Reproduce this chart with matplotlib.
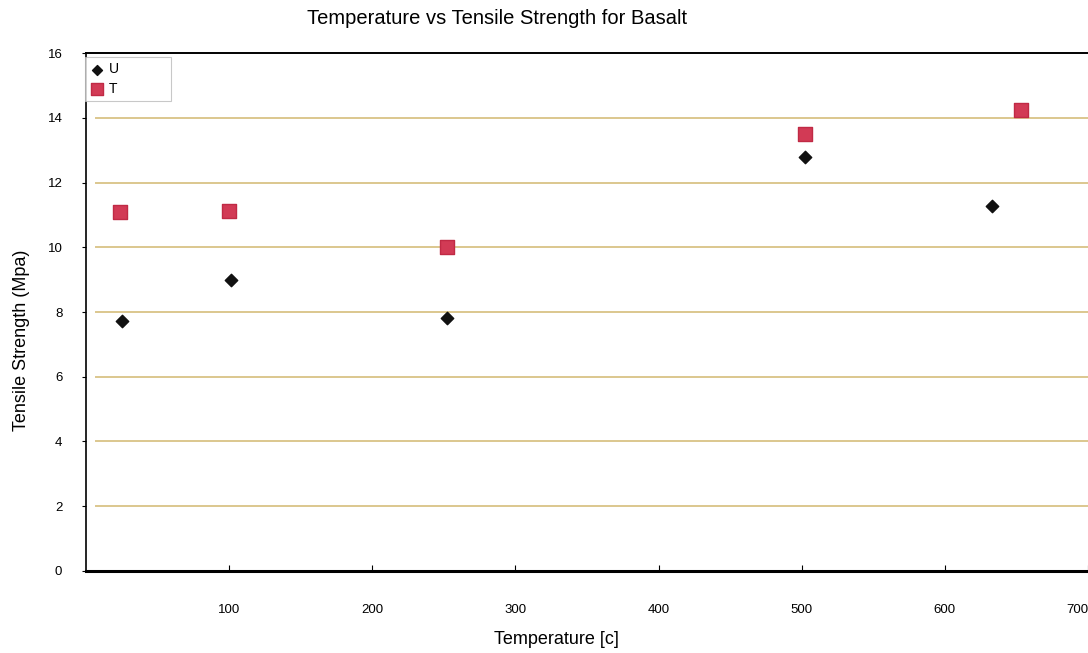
import numpy as np
import matplotlib
matplotlib.use("Agg")
import matplotlib.pyplot as plt

plt.rcParams['font.family'] = ['Liberation Sans', 'DejaVu Sans']

# tensile strength (MPa) against temperature (C)
temp_u = [25, 101, 252, 502, 633]
strength_u = [7.73, 9.0, 7.82, 12.8, 11.28]
temp_t = [24, 100, 252, 502, 653]
strength_t = [11.1, 11.13, 10.0, 13.5, 14.25]
series_labels = ['U', 'T']

x_ticks = [100, 200, 300, 400, 500, 600, 700]
y_ticks = [0, 2, 4, 6, 8, 10, 12, 14, 16]

fig = plt.figure(figsize=(10.88, 6.53), dpi=100, facecolor='white')
ax = fig.add_axes([0.079, 0.1256, 0.921, 0.7932])

ax.set_xlim(0, 700)
ax.set_ylim(0, 16)

# horizontal gridlines in a tan colour
for y in y_ticks[1:-1]:
    ax.axhline(y, xmin=0.01, xmax=1.0, color='#dcc78e', lw=1.4, zorder=1)

ax.scatter(temp_u, strength_u, marker='D', s=40, color='#111111',
           label=series_labels[0], zorder=3)
ax.scatter(temp_t, strength_t, marker='s', s=110, color='#d23a55',
           edgecolors='#c02a45', label=series_labels[1], zorder=3)

ax.set_xticks(x_ticks)
ax.set_yticks(y_ticks)
ax.tick_params(axis='x', direction='in', length=4, pad=24, labelsize=9.5)
ax.tick_params(axis='y', direction='out', length=3, pad=14, labelsize=9.5)
# keep the last x label inside the figure
xlabels = ax.get_xticklabels()
xlabels[-1].set_horizontalalignment('right')

ax.spines['right'].set_visible(False)
ax.spines['bottom'].set_linewidth(2.2)
ax.spines['top'].set_linewidth(1.4)
ax.spines['left'].set_linewidth(1.2)

ax.set_xlabel('Temperature [c]', fontsize=13)
ax.set_ylabel('Tensile Strength (Mpa)', fontsize=13)
ax.xaxis.set_label_coords(0.47, -0.115)
ax.yaxis.set_label_coords(-0.056, 0.445)
fig.text(0.457, 0.972, 'Temperature vs Tensile Strength for Basalt',
         ha='center', va='center', fontsize=14.5)

leg = ax.legend(loc='upper left', bbox_to_anchor=(-0.001, 0.993), frameon=True,
                fancybox=False, edgecolor='#bbbbbb', fontsize=10,
                handletextpad=0.3, borderpad=0.4, labelspacing=0.4,
                markerscale=0.8, handlelength=1.0, borderaxespad=0.0)
leg.get_frame().set_linewidth(0.8)
# widen the label column of the legend box
for t in leg.get_texts():
    t.set_text(t.get_text() + '            ')

fig.savefig('out.png', dpi=100)
